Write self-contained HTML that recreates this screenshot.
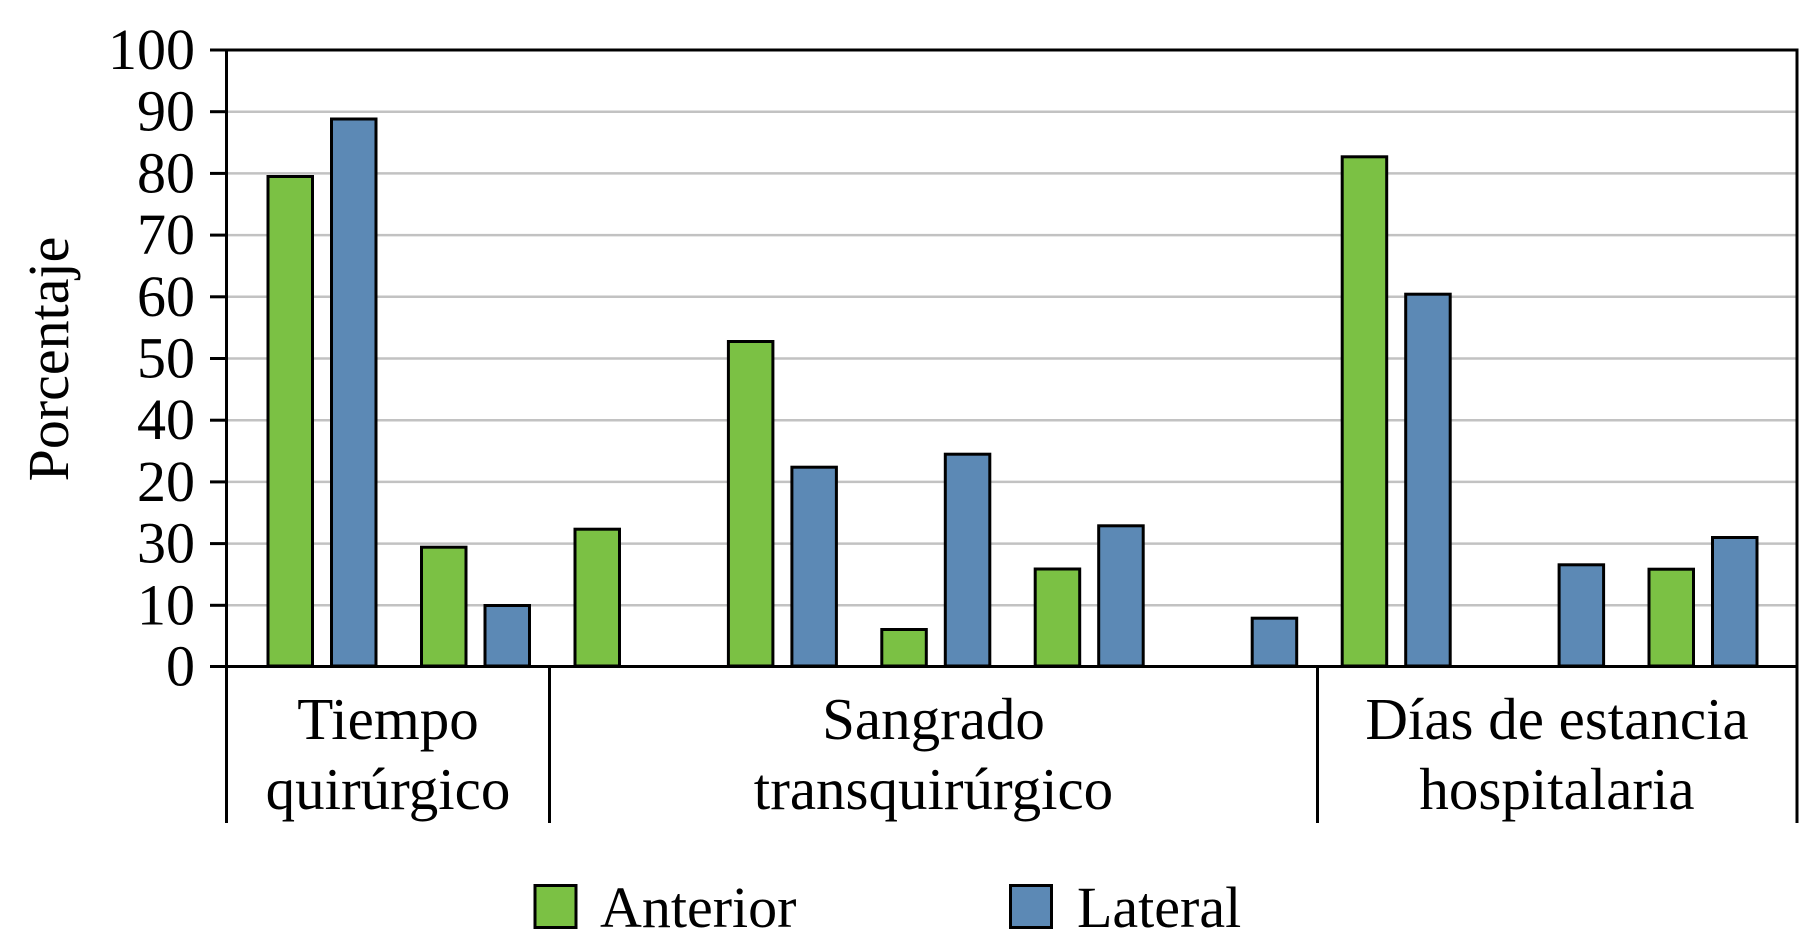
<!DOCTYPE html>
<html>
<head>
<meta charset="utf-8">
<style>
html,body{margin:0;padding:0;background:#fff;}
svg{display:block;}
text{font-family:"Liberation Serif","Times New Roman",serif;fill:#000;}
</style>
</head>
<body>
<svg width="1800" height="952" viewBox="0 0 1800 952" xmlns="http://www.w3.org/2000/svg">
<rect x="0" y="0" width="1800" height="952" fill="#fff"/>
<!-- grid lines -->
<g stroke="#c2c2c2" stroke-width="2.5">
<line x1="226" y1="605.3" x2="1797" y2="605.3"/>
<line x1="226" y1="543.6" x2="1797" y2="543.6"/>
<line x1="226" y1="481.9" x2="1797" y2="481.9"/>
<line x1="226" y1="420.2" x2="1797" y2="420.2"/>
<line x1="226" y1="358.5" x2="1797" y2="358.5"/>
<line x1="226" y1="296.8" x2="1797" y2="296.8"/>
<line x1="226" y1="235.1" x2="1797" y2="235.1"/>
<line x1="226" y1="173.4" x2="1797" y2="173.4"/>
<line x1="226" y1="111.7" x2="1797" y2="111.7"/>
</g>
<!-- bars -->
<g stroke="#000" stroke-width="3">
<!-- slot0 -->
<rect x="268" y="176.5" width="44.5" height="489.5" fill="#7bc144"/>
<rect x="331.5" y="119" width="44.5" height="547" fill="#5c89b5"/>
<!-- slot1 -->
<rect x="421.5" y="547.2" width="44.5" height="118.8" fill="#7bc144"/>
<rect x="485" y="605.5" width="44.5" height="60.5" fill="#5c89b5"/>
<!-- slot2 -->
<rect x="575" y="529.2" width="44.5" height="136.8" fill="#7bc144"/>
<!-- slot3 -->
<rect x="728.4" y="341.5" width="44.5" height="324.5" fill="#7bc144"/>
<rect x="791.9" y="467.2" width="44.5" height="198.8" fill="#5c89b5"/>
<!-- slot4 -->
<rect x="881.8" y="629.5" width="44.5" height="36.5" fill="#7bc144"/>
<rect x="945.3" y="454.2" width="44.5" height="211.8" fill="#5c89b5"/>
<!-- slot5 -->
<rect x="1035.2" y="569" width="44.5" height="97" fill="#7bc144"/>
<rect x="1098.7" y="525.8" width="44.5" height="140.2" fill="#5c89b5"/>
<!-- slot6 -->
<rect x="1252.2" y="618.2" width="44.5" height="47.8" fill="#5c89b5"/>
<!-- slot7 -->
<rect x="1342.2" y="156.8" width="44.5" height="509.2" fill="#7bc144"/>
<rect x="1405.7" y="294.2" width="44.5" height="371.8" fill="#5c89b5"/>
<!-- slot8 -->
<rect x="1559.1" y="564.8" width="44.5" height="101.2" fill="#5c89b5"/>
<!-- slot9 -->
<rect x="1649" y="569.2" width="44.5" height="96.8" fill="#7bc144"/>
<rect x="1712.5" y="537.5" width="44.5" height="128.5" fill="#5c89b5"/>
</g>
<!-- axes and frame -->
<g stroke="#000" stroke-width="3" fill="none">
<line x1="210" y1="50" x2="1798" y2="50"/>
<line x1="210" y1="666.5" x2="1798" y2="666.5"/>
<line x1="226.5" y1="48.5" x2="226.5" y2="823"/>
<line x1="1797" y1="48.5" x2="1797" y2="823"/>
<line x1="549.5" y1="666.5" x2="549.5" y2="823"/>
<line x1="1317.5" y1="666.5" x2="1317.5" y2="823"/>
<!-- ticks -->
<line x1="210" y1="605.3" x2="226" y2="605.3"/>
<line x1="210" y1="543.6" x2="226" y2="543.6"/>
<line x1="210" y1="481.9" x2="226" y2="481.9"/>
<line x1="210" y1="420.2" x2="226" y2="420.2"/>
<line x1="210" y1="358.5" x2="226" y2="358.5"/>
<line x1="210" y1="296.8" x2="226" y2="296.8"/>
<line x1="210" y1="235.1" x2="226" y2="235.1"/>
<line x1="210" y1="173.4" x2="226" y2="173.4"/>
<line x1="210" y1="111.7" x2="226" y2="111.7"/>
</g>
<!-- tick labels -->
<g font-size="58" text-anchor="end">
<text x="195" y="69">100</text>
<text x="195" y="130.7">90</text>
<text x="195" y="192.4">80</text>
<text x="195" y="254.1">70</text>
<text x="195" y="315.8">60</text>
<text x="195" y="377.5">50</text>
<text x="195" y="439.2">40</text>
<text x="195" y="500.9">20</text>
<text x="195" y="562.6">30</text>
<text x="195" y="624.3">10</text>
<text x="195" y="685.5">0</text>
</g>
<!-- y axis title -->
<text font-size="58" text-anchor="middle" transform="translate(68,359) rotate(-90)">Porcentaje</text>
<!-- category labels -->
<g font-size="59" text-anchor="middle">
<text x="388" y="739">Tiempo</text>
<text x="388" y="809">quirúrgico</text>
<text x="933.5" y="739">Sangrado</text>
<text x="933.5" y="809">transquirúrgico</text>
<text x="1557" y="739">Días de estancia</text>
<text x="1557" y="809">hospitalaria</text>
</g>
<!-- legend -->
<rect x="535" y="885.5" width="41" height="42" fill="#7bc144" stroke="#000" stroke-width="3"/>
<text x="600" y="927" font-size="58">Anterior</text>
<rect x="1010.5" y="885.5" width="41" height="42" fill="#5c89b5" stroke="#000" stroke-width="3"/>
<text x="1077" y="927" font-size="58">Lateral</text>
</svg>
</body>
</html>
